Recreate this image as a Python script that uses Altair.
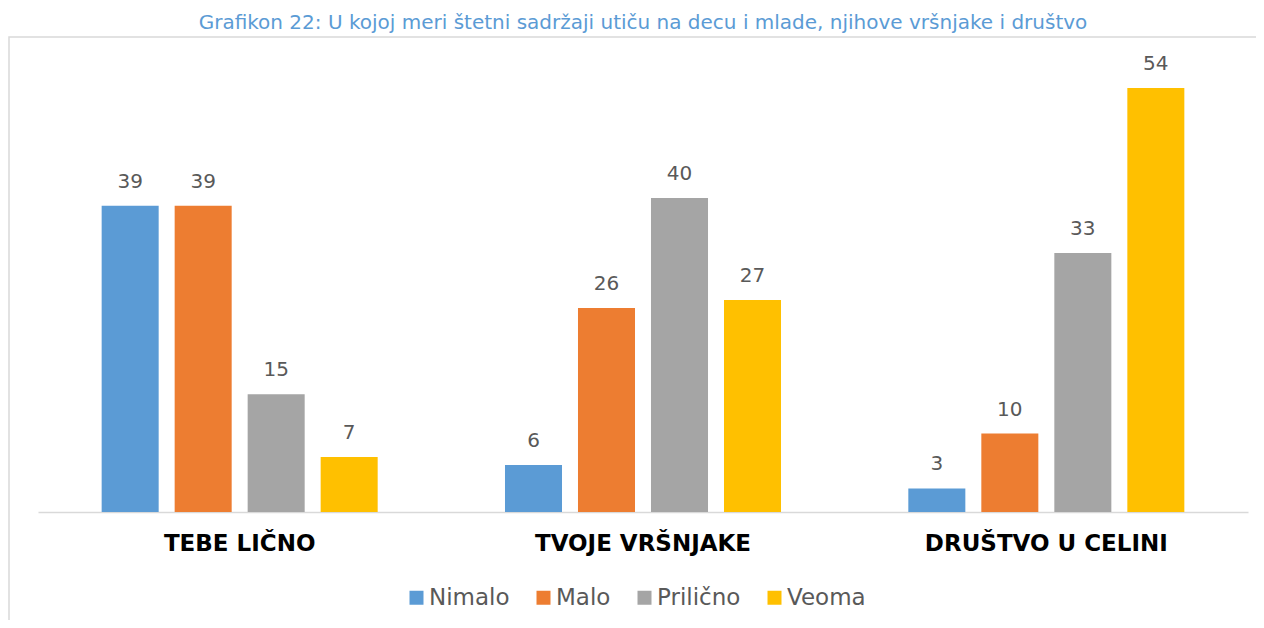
import altair as alt
import pandas as pd

categories = ["TEBE LIČNO", "TVOJE VRŠNJAKE", "DRUŠTVO U CELINI"]
series = ["Nimalo", "Malo", "Prilično", "Veoma"]
colors = ["#5B9BD5", "#ED7D31", "#A5A5A5", "#FFC000"]
nimalo = [39, 6, 3]
malo = [39, 26, 10]
prilicno = [15, 40, 33]
veoma = [7, 27, 54]
title_text = "Grafikon 22: U kojoj meri štetni sadržaji utiču na decu i mlade, njihove vršnjake i društvo"

rows = []
for s, vals in zip(series, [nimalo, malo, prilicno, veoma]):
    for c, v in zip(categories, vals):
        rows.append({"kategorija": c, "odgovor": s, "vrednost": v})
df = pd.DataFrame(rows)

W, H = 1210, 471
FONT = "DejaVu Sans"

base = alt.Chart(df).encode(
    x=alt.X("kategorija:N", sort=categories, title=None,
            scale=alt.Scale(paddingInner=0, paddingOuter=0),
            axis=alt.Axis(labelAngle=0, labelFont=FONT, labelFontSize=23,
                          labelFontWeight="bold", labelColor="#000000",
                          labelPadding=20, labelLimit=0, tickSize=0, ticks=False,
                          domainColor="#D9D9D9", domainWidth=1.5)),
    xOffset=alt.XOffset("odgovor:N", sort=series,
                        scale=alt.Scale(paddingInner=0.219, paddingOuter=0.872)),
    y=alt.Y("vrednost:Q", scale=alt.Scale(domain=[0, 60], nice=False), axis=None),
)

bars = base.mark_bar().encode(
    color=alt.Color("odgovor:N", sort=series,
                    scale=alt.Scale(domain=series, range=colors),
                    legend=alt.Legend(title=None, orient="none", direction="horizontal",
                                      legendX=367, legendY=545,
                                      symbolType="square", symbolSize=196,
                                      symbolStrokeWidth=0,
                                      labelFont=FONT, labelFontSize=23,
                                      labelColor="#595959", labelOffset=1,
                                      labelLimit=0,
                                      columnPadding=22, padding=0)),
)

labels = base.mark_text(font=FONT, fontSize=20, color="#595959",
                        baseline="alphabetic", dy=-18).encode(
    text=alt.Text("vrednost:Q"))

deco = pd.DataFrame({"t": [title_text]})
border = alt.Chart(deco).mark_rect(fill=None, stroke="#D9D9D9", strokeWidth=1.5).encode(
    x=alt.value(-29), x2=alt.value(1400), y=alt.value(-4), y2=alt.value(800))

title = alt.Chart(deco).mark_text(font=FONT, fontSize=20, color="#5B9BD5",
                                  align="center", baseline="alphabetic").encode(
    x=alt.value(W / 2), y=alt.value(-12), text="t:N")

chart = alt.layer(border, bars, labels, title).properties(
    width=W, height=H,
    padding={"left": 30, "top": 33, "right": 8, "bottom": 108},
    autosize=alt.AutoSizeParams(type="none"),
    background="#FFFFFF",
).configure_view(strokeWidth=0, stroke="transparent")

chart.save("out.html", embed_options={"renderer": "svg", "actions": False})
